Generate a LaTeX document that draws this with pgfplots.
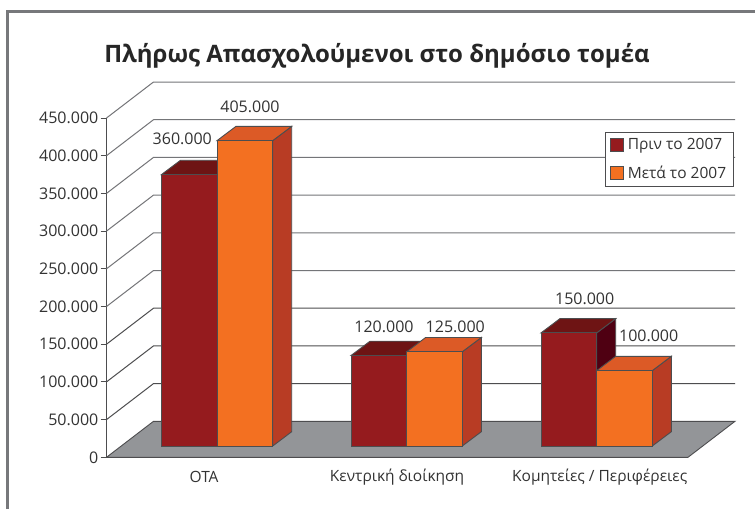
\documentclass[border=0pt]{standalone}
\usepackage{pgfplots}
\pgfplotsset{compat=1.18}
\usepackage{fontspec}
\setmainfont{Open Sans}
\definecolor{txt}{HTML}{333333}
\definecolor{frm}{HTML}{77787B}
\definecolor{lin}{HTML}{4D4D4F}
\definecolor{lig}{HTML}{747578}
\definecolor{flr}{HTML}{939598}
\definecolor{mf}{HTML}{951B1E}
\definecolor{mt}{HTML}{6E1414}
\definecolor{ms}{HTML}{4F0012}
\definecolor{of}{HTML}{F37021}
\definecolor{ot}{HTML}{DC5A26}
\definecolor{os}{HTML}{B83C24}
\newcommand{\gridln}[3]{\addplot[forget plot,draw=#3,line width=1pt] coordinates {(106.5,#1)(153.5,#2)(735,#2)};}
\newcommand{\face}[2]{\addplot[forget plot,fill=#1,draw=lin,line width=0.9pt,yshift=11.3pt] coordinates {#2} --cycle;}
\begin{document}
\begin{tikzpicture}[x=1pt,y=1pt]
\path[use as bounding box] (0,0) rectangle (755,-509);
\fill[white] (0,0) rectangle (755,-509);
\begin{axis}[
  at={(106.5pt,-457.3pt)},anchor=south west,
  scale only axis,width=581.5pt,height=339.3pt,
  xmin=106.5,xmax=688,ymin=0,ymax=450000,
  clip=false,
  scaled y ticks=false,
  axis x line=bottom,axis y line=left,
  axis line style={draw=lin,line width=0.9pt,-},
  tick style={draw=lin,line width=0.9pt},
  ytick={0,50000,100000,150000,200000,250000,300000,350000,400000,450000},
  yticklabels={0,50.000,100.000,150.000,200.000,250.000,300.000,350.000,400.000,450.000},
  major tick length=6pt,
  tick align=outside,
  yticklabel style={font=\fontsize{16}{18}\selectfont,text=txt,inner sep=0pt,xshift=-2pt},
  xtick={204,397,599.7},
  xticklabels={ΟΤΑ,Κεντρική διοίκηση,Κομητείες / Περιφέρειες},
  x tick style={draw=none},
  xticklabel style={font=\fontsize{15.5}{18}\selectfont,text=txt,inner sep=0pt,anchor=center,yshift=-14pt},
  extra x ticks={106.5,300.3,494.2,688},
  extra x tick labels={},
  extra x tick style={tick style={draw=lin,line width=0.9pt},major tick length=5pt},
  title={Πλήρως Απασχολούμενοι στο δημόσιο τομέα},
  title style={at={(axis cs:377,524000)},anchor=center,font=\fontsize{24}{28}\selectfont\bfseries,text=black!85},
  legend image code/.code={\draw[#1,draw=lin,line width=0.5pt] (0pt,-6.5pt) rectangle (13pt,6.5pt);\path (15pt,0pt);},
  legend style={at={(axis cs:605,431440)},anchor=north west,draw=lin,line width=0.5pt,
    font=\fontsize{15.5}{18}\selectfont,text=txt,inner xsep=5pt,inner ysep=4pt,
    row sep=11pt,legend cell align=left},
]
% back wall
\gridln{50000}{97750}{lin}
\gridln{100000}{147750}{lin}
\gridln{150000}{197750}{lin}
\gridln{200000}{247750}{lig}
\gridln{250000}{297750}{lig}
\gridln{300000}{347750}{lig}
\gridln{350000}{397750}{lig}
\gridln{400000}{447750}{lig}
\gridln{450000}{497750}{lig}
% floor
\addplot[forget plot,fill=flr,draw=lin,line width=0.9pt] coordinates {(106.5,0)(153.5,47750)(735,47750)(688,0)} --cycle;
% OTA
\face{ms}{(217,0)(236,18960)(236,378960)(217,360000)}
\face{mt}{(161.5,360000)(217,360000)(236,378960)(180.5,378960)}
\face{mf}{(161.5,0)(161.5,360000)(217,360000)(217,0)}
\face{os}{(272.7,0)(291.7,18960)(291.7,423960)(272.7,405000)}
\face{ot}{(217,405000)(272.7,405000)(291.7,423960)(236,423960)}
\face{of}{(217,0)(217,405000)(272.7,405000)(272.7,0)}
% central
\face{ms}{(406.7,0)(425.7,18960)(425.7,138960)(406.7,120000)}
\face{mt}{(351,120000)(406.7,120000)(425.7,138960)(370,138960)}
\face{mf}{(351,0)(351,120000)(406.7,120000)(406.7,0)}
\face{os}{(462.3,0)(481.3,18960)(481.3,143960)(462.3,125000)}
\face{ot}{(406.7,125000)(462.3,125000)(481.3,143960)(425.7,143960)}
\face{of}{(406.7,0)(406.7,125000)(462.3,125000)(462.3,0)}
% committees
\face{ms}{(596.7,0)(615.7,18960)(615.7,168960)(596.7,150000)}
\face{mt}{(541,150000)(596.7,150000)(615.7,168960)(560,168960)}
\face{mf}{(541,0)(541,150000)(596.7,150000)(596.7,0)}
\face{os}{(652.3,0)(671.3,18960)(671.3,118960)(652.3,100000)}
\face{ot}{(596.7,100000)(652.3,100000)(671.3,118960)(615.7,118960)}
\face{of}{(596.7,0)(596.7,100000)(652.3,100000)(652.3,0)}
\addlegendimage{fill=mf}
\addlegendentry{Πριν το 2007}
\addlegendimage{fill=of}
\addlegendentry{Μετά το 2007}
\end{axis}
% frame
\draw[frm,line width=2.6pt] (7.3,-509) -- (7.3,-11.5) -- (755,-11.5);
% value labels
\begin{scope}[every node/.style={font=\fontsize{16}{18}\selectfont,text=txt,inner sep=0pt}]
\node at (182.3,-139.3) {360.000};
\node at (250,-107) {405.000};
\node at (384,-327) {120.000};
\node at (455.3,-326.7) {125.000};
\node at (584.7,-299) {150.000};
\node at (648.7,-335.7) {100.000};
\end{scope}
\end{tikzpicture}
\end{document}
